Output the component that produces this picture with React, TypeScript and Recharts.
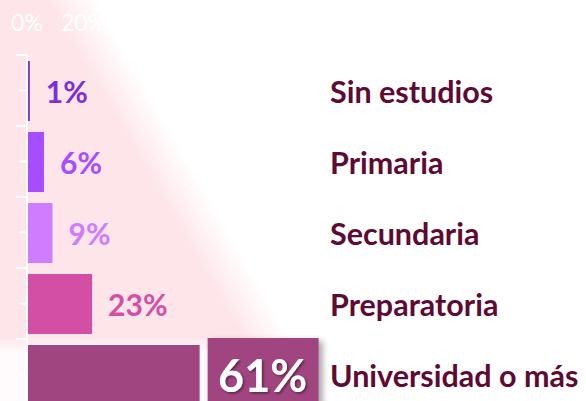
import { Bar, BarChart, Cell, LabelList, XAxis, YAxis } from "recharts";

const categories = [
  "Sin estudios",
  "Primaria",
  "Secundaria",
  "Preparatoria",
  "Universidad o más",
];
const shares = [1, 6, 9, 23, 61];
const xTicks = [0, 20, 40, 60, 80, 100];

const barColors = ["#7b2fd6", "#a64dff", "#d07cff", "#d24fa5", "#a0457f"];
const FONT = "Lato, 'Open Sans', sans-serif";

const data = categories.map((name, i) => ({ name, share: shares[i] }));

function LeftTick({ x, y }: any) {
  const half = 35.5;
  return (
    <g stroke="#ffffff" strokeWidth={2}>
      <line x1={x - 8} x2={x} y1={y} y2={y} />
      <line x1={x - 11} x2={x} y1={y - half} y2={y - half} />
      <line x1={x - 11} x2={x} y1={y + half} y2={y + half} />
    </g>
  );
}

function RightTick({ x, y, payload }: any) {
  return (
    <text
      x={x}
      y={y}
      dominantBaseline="central"
      textAnchor="start"
      fill="#5e0a33"
      fontFamily={FONT}
      fontWeight={700}
      fontSize={30.5}
    >
      {payload.value}
    </text>
  );
}

function TopTick({ x, y, payload }: any) {
  return (
    <text
      x={x}
      y={y}
      dominantBaseline="central"
      textAnchor="middle"
      fill="#ffffff"
      fontFamily={FONT}
      fontSize={23}
    >
      {payload.value}%
    </text>
  );
}

function ValueLabel(props: any) {
  const { x, y, width, height, value, index } = props;
  const cy = y + height / 2;
  if (index === shares.length - 1) {
    const bx = x + width + 8;
    const by = y - 7;
    return (
      <g>
        <defs>
          <filter id="boxShadow" x="-20%" y="-20%" width="150%" height="150%">
            <feDropShadow dx="4" dy="3" stdDeviation="3" floodColor="#000" floodOpacity="0.35" />
          </filter>
          <filter id="textShadow" x="-20%" y="-20%" width="150%" height="150%">
            <feDropShadow dx="1.5" dy="1.5" stdDeviation="1" floodColor="#000" floodOpacity="0.45" />
          </filter>
        </defs>
        <rect x={bx} y={by} width={111} height={80} fill={barColors[index]} filter="url(#boxShadow)" />
        <text
          x={bx + 55}
          y={cy}
          dominantBaseline="central"
          textAnchor="middle"
          fill="#ffffff"
          fontFamily={FONT}
          fontWeight={700}
          fontSize={45}
          filter="url(#textShadow)"
        >
          {value}%
        </text>
      </g>
    );
  }
  return (
    <text
      x={x + width + 16}
      y={cy}
      dominantBaseline="central"
      textAnchor="start"
      fill={barColors[index]}
      fontFamily={FONT}
      fontWeight={700}
      fontSize={30}
    >
      {value}%
    </text>
  );
}

export default function App() {
  return (
    <div
      style={{
        position: "absolute",
        left: 0,
        top: 0,
        width: 586,
        height: 401,
        overflow: "hidden",
        background:
          "linear-gradient(to bottom, rgba(255,255,255,0) 84%, rgba(255,255,255,0.85) 88%), linear-gradient(60deg, #fde5ea 0%, #fde5ea 34%, #fff2f4 37%, #ffffff 40%)",
      }}
    >
      <BarChart
        width={586}
        height={420}
        data={data}
        layout="vertical"
        margin={{ top: 25, right: 0, bottom: 10, left: 0 }}
      >
        <XAxis
          type="number"
          orientation="top"
          domain={[0, 100]}
          ticks={xTicks}
          height={30}
          axisLine={false}
          tickLine={false}
          tickSize={0}
          tickMargin={33}
          tick={<TopTick />}
        />
        <YAxis
          yAxisId="left"
          type="category"
          dataKey="name"
          width={27}
          axisLine={{ stroke: "#ffffff", strokeWidth: 2 }}
          tickLine={false}
          tickSize={0}
          tickMargin={0}
          tick={<LeftTick />}
        />
        <YAxis
          yAxisId="right"
          type="category"
          dataKey="name"
          orientation="right"
          width={276}
          axisLine={false}
          tickLine={false}
          tickSize={0}
          tickMargin={20}
          tick={<RightTick />}
        />
        <Bar dataKey="share" yAxisId="left" barSize={60} isAnimationActive={false}>
          {data.map((d, i) => (
            <Cell key={d.name} fill={barColors[i]} />
          ))}
          <LabelList dataKey="share" content={<ValueLabel />} />
        </Bar>
      </BarChart>
    </div>
  );
}
